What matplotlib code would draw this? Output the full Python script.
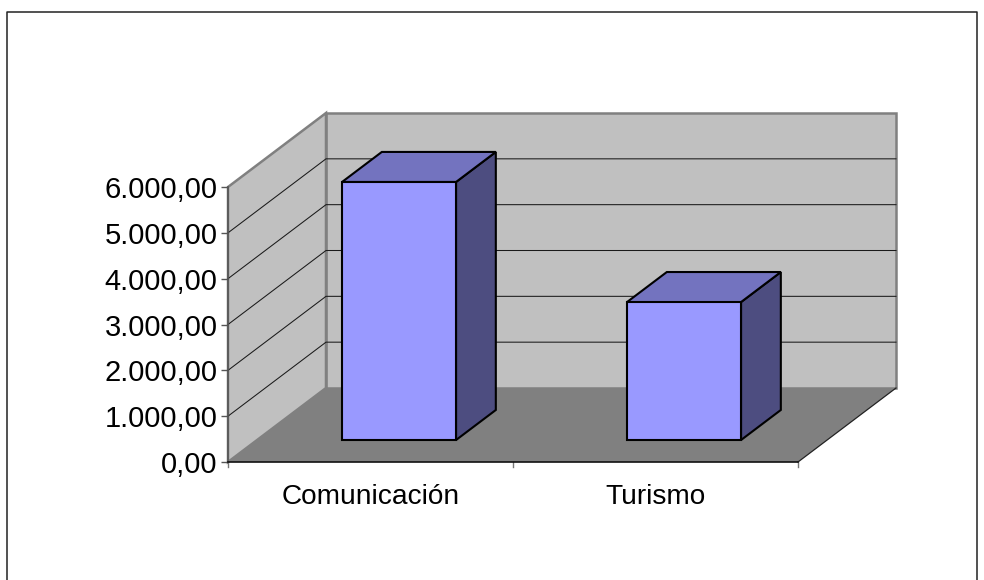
import matplotlib
matplotlib.use("Agg")
import matplotlib.pyplot as plt
from matplotlib.lines import Line2D
from matplotlib.patches import Polygon

plt.rcParams['font.family'] = ['Liberation Sans', 'DejaVu Sans']

categories = ["Comunicación", "Turismo"]
values = [5630, 3010]
y_ticks = [0, 1000, 2000, 3000, 4000, 5000, 6000]
y_labels = ["0,00", "1.000,00", "2.000,00", "3.000,00", "4.000,00", "5.000,00", "6.000,00"]

# how far one unit of depth shifts a point, in data units of the front plane
depth_x = 98 / 285
depth_y = 74 / 275 * 6000
bar_width = 0.4
bar_depth = (0.297, 0.703)


def proj(x, y, d):
    return (x + d * depth_x, y + d * depth_y)


def face(ax, pts, color, ec='none', lw=0, z=1):
    ax.add_patch(Polygon([proj(*p) for p in pts], closed=True, facecolor=color,
                         edgecolor=ec, linewidth=lw, joinstyle='miter', clip_on=False, zorder=z))


fig = plt.figure(figsize=(9.84, 5.8), dpi=100)
ax = fig.add_axes([228 / 984, 118 / 580, 570 / 984, 275 / 580])
ax.patch.set_visible(False)
ax.set_xlim(0, 2)
ax.set_ylim(0, 6000)

top = y_ticks[-1]
# walls and floor
face(ax, [(0, 0, 1), (2, 0, 1), (2, top, 1), (0, top, 1)], '#C0C0C0', '#808080', 1.8)
face(ax, [(0, 0, 0), (0, 0, 1), (0, top, 1), (0, top, 0)], '#C0C0C0', '#808080', 1.8)
face(ax, [(0, 0, 0), (2, 0, 0), (2, 0, 1), (0, 0, 1)], '#808080', z=1.5)

for v in y_ticks[1:-1]:
    pts = [proj(0, v, 0), proj(0, v, 1), proj(2, v, 1)]
    ax.plot([p[0] for p in pts], [p[1] for p in pts], color='#1A1A1A', lw=0.75, clip_on=False, zorder=2)
pts = [proj(2, 0, 0), proj(2, 0, 1)]
ax.plot([p[0] for p in pts], [p[1] for p in pts], color='#222222', lw=0.9, clip_on=False, zorder=2)

# bars
for i, v in enumerate(values):
    x0 = i + 0.5 - bar_width / 2 - 0.002
    x1 = i + 0.5 + bar_width / 2 - 0.002
    d0, d1 = bar_depth
    face(ax, [(x1, 0, d0), (x1, 0, d1), (x1, v, d1), (x1, v, d0)], '#4D4D80', 'black', 1.5, 3)
    face(ax, [(x0, v, d0), (x1, v, d0), (x1, v, d1), (x0, v, d1)], '#7373BF', 'black', 1.5, 3)
    face(ax, [(x0, 0, d0), (x1, 0, d0), (x1, v, d0), (x0, v, d0)], '#9999FF', 'black', 1.5, 4)

ax.spines['top'].set_visible(False)
ax.spines['right'].set_visible(False)
ax.spines['left'].set_color('#555555')
ax.spines['left'].set_linewidth(1.2)
ax.spines['bottom'].set_color('#111111')
ax.spines['bottom'].set_linewidth(1.2)
for s in ax.spines.values():
    s.set_zorder(5)

ax.set_yticks(y_ticks, y_labels)
ax.set_xticks([0.5, 1.5], categories)
ax.tick_params(axis='y', length=5, width=1, color='#555555', labelsize=21, pad=2.5)
ax.tick_params(axis='x', length=0, labelsize=20.2, pad=16)
for x in [0, 1, 2]:
    ax.plot([x, x], [0, -110], color='#777777', lw=1, clip_on=False, zorder=2)

# outer frame, open at the bottom of the picture
H = 580
frame = [(7, H), (7, 12), (977, 12), (977, H)]
fig.add_artist(Line2D([p[0] / 984 for p in frame], [1 - p[1] / H for p in frame],
                      color='#222222', lw=1.1))

fig.savefig("out.png", dpi=100)
